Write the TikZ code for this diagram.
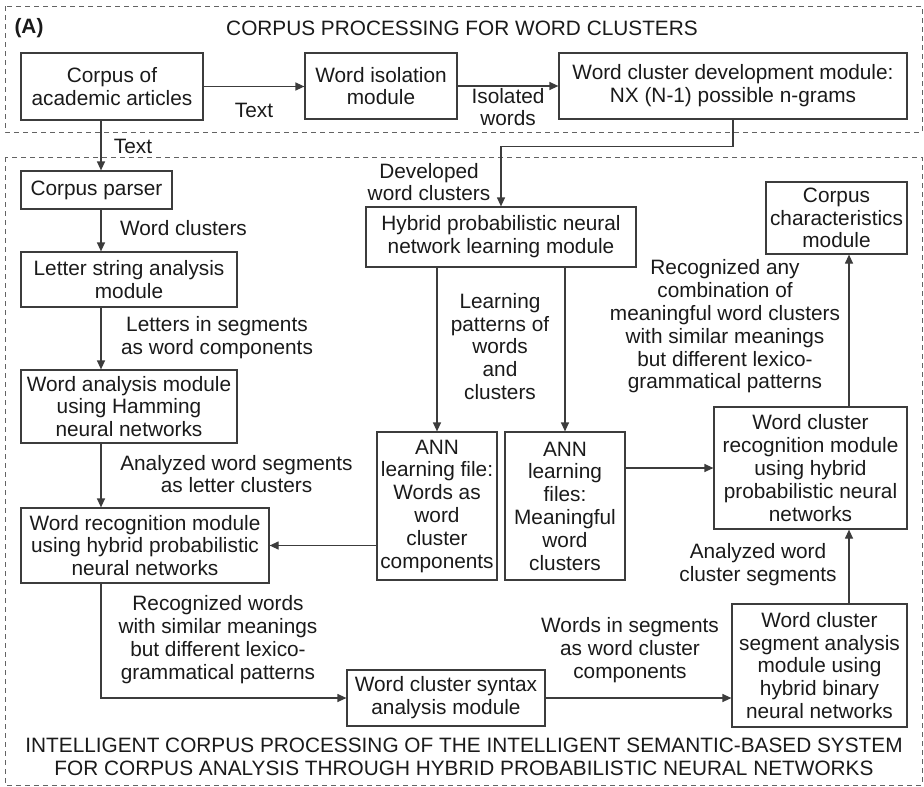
\documentclass[tikz,border=0pt]{standalone}
\usepackage{fontspec}
\setmainfont{Liberation Sans}
\usetikzlibrary{arrows.meta}
\definecolor{ln}{HTML}{3C3C3C}
\definecolor{tx}{HTML}{1A1A1A}
\tikzset{
  every node/.style={font=\fontsize{20.8}{22.8}\selectfont, text=tx, align=center, inner sep=0pt},
  box/.style={draw=ln, line width=1.2pt},
  arr/.style={draw=ln, line width=1.2pt, -{Triangle[length=9pt,width=8pt]}},
  frame/.style={draw=ln!80, line width=0.9pt, dash pattern=on 5pt off 4pt},
}
\begin{document}
\begin{tikzpicture}[x=1pt,y=-1pt]
\useasboundingbox (0,0) rectangle (924,787);
% frames
\draw[frame] (5,6) rectangle (922,132);
\draw[frame] (5,157) rectangle (922,785);
% titles
\node (lblA) at (29,28) {\bfseries (A)};
\node (ttop) at (462,28) {CORPUS PROCESSING FOR WORD CLUSTERS};
\node (tbot) at (464,757) {INTELLIGENT CORPUS PROCESSING OF THE INTELLIGENT SEMANTIC-BASED SYSTEM\\FOR CORPUS ANALYSIS THROUGH HYBRID PROBABILISTIC NEURAL NETWORKS};
% boxes
\node[box, minimum width=182pt, minimum height=67pt] (corpus) at (112,86.5) {Corpus of\\academic articles};
\node[box, minimum width=152pt, minimum height=66pt] (iso) at (381,86) {Word isolation\\module};
\node[box, minimum width=348pt, minimum height=66pt] (wcd) at (733,86) {Word cluster development module:\\NX (N-1) possible n-grams};
\node[box, minimum width=151pt, minimum height=38pt] (parser) at (96.5,190) {Corpus parser};
\node[box, minimum width=216pt, minimum height=55pt] (letter) at (129,279.5) {Letter string analysis\\module};
\node[box, minimum width=216pt, minimum height=73pt] (wam) at (129,406.5) {Word analysis module\\using Hamming\\neural networks};
\node[box, minimum width=248pt, minimum height=75pt] (wrm) at (145,545.5) {Word recognition module\\using hybrid probabilistic\\neural networks};
\node[box, minimum width=270pt, minimum height=60pt] (hyb) at (501,237) {Hybrid probabilistic neural\\network learning module};
\node[box, minimum width=120pt, minimum height=148pt] (ann1) at (437,506) {ANN\\learning file:\\Words as\\word\\cluster\\components};
\node[box, minimum width=120pt, minimum height=148pt] (ann2) at (565,506) {ANN\\learning\\files:\\Meaningful\\word\\clusters};
\node[box, minimum width=141pt, minimum height=72pt] (ccm) at (836.5,218) {Corpus\\characteristics\\module};
\node[box, minimum width=193pt, minimum height=122pt] (wcr) at (810.5,468) {Word cluster\\recognition module\\using hybrid\\probabilistic neural\\networks};
\node[box, minimum width=175pt, minimum height=123pt] (wcsa) at (819.5,665.5) {Word cluster\\segment analysis\\module using\\hybrid binary\\neural networks};
\node[box, minimum width=198pt, minimum height=56pt] (syn) at (446,698) {Word cluster syntax\\analysis module};
% guide coordinates
\coordinate (xl) at (101,0);
\coordinate (xr) at (849,0);
% connectors
\draw[arr] (corpus.east) -- (corpus.east -| iso.west);
\draw[arr] (iso.east) -- (iso.east -| wcd.west);
\draw[arr] (xl |- corpus.south) -- (xl |- parser.north);
\draw[arr] (wcd.south) -- ++(0,27) -| (hyb.north);
\draw[arr] (xl |- parser.south) -- (xl |- letter.north);
\draw[arr] (xl |- letter.south) -- (xl |- wam.north);
\draw[arr] (xl |- wam.south) -- (xl |- wrm.north);
\draw[arr] (ann1.north |- hyb.south) -- (ann1.north);
\draw[arr] (ann2.north |- hyb.south) -- (ann2.north);
\draw[arr] (ann1.west |- wrm.east) -- (wrm.east);
\draw[arr] (ann2.east |- wcr.west) -- (wcr.west);
\draw[arr] (xr |- wcr.north) -- (xr |- ccm.south);
\draw[arr] (xr |- wcsa.north) -- (xr |- wcr.south);
\draw[arr] (xl |- wrm.south) |- (syn.west);
\draw[arr] (syn.east) -- (syn.east -| wcsa.west);
% connector labels
\node (l1) at (254,110) {Text};
\node (l2) at (508,107) {Isolated\\words};
\node (l3) at (133,146) {Text};
\node (l4) at (429,182) {Developed\\word clusters};
\node (l5) at (183.5,228) {Word clusters};
\node (l6) at (217,338) {Letters in segments\\as word components};
\node (l7) at (236.5,474) {Analyzed word segments\\as letter clusters};
\node (l8) at (218,639.5) {Recognized words\\with similar meanings\\but different lexico-\\grammatical patterns};
\node (l9) at (500,346.5) {Learning\\patterns of\\words\\and\\clusters};
\node (l10) at (725,326.5) {Recognized any\\combination of\\meaningful word clusters\\with similar meanings\\but different lexico-\\grammatical patterns};
\node (l11) at (758,565) {Analyzed word\\cluster segments};
\node (l12) at (630,650) {Words in segments\\as word cluster\\components};
\end{tikzpicture}
\end{document}
